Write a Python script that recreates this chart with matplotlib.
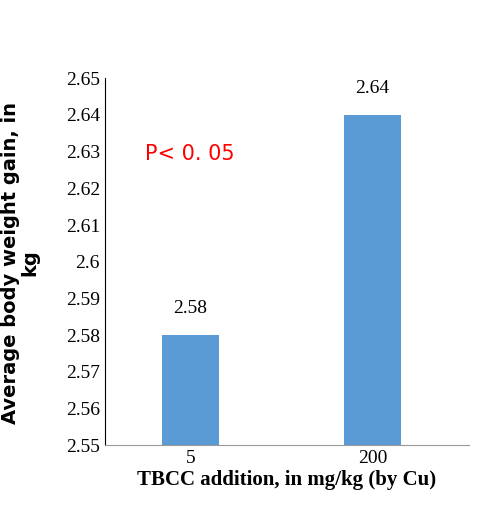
import matplotlib.pyplot as plt

doses = ["5", "200"]
gains = [2.58, 2.64]
yticks = [2.55, 2.56, 2.57, 2.58, 2.59, 2.6, 2.61, 2.62, 2.63, 2.64, 2.65]

plt.rcParams['font.family'] = ['Liberation Serif', 'DejaVu Serif']

fig = plt.figure(figsize=(4.99, 5.25), dpi=100)
ax = fig.add_axes([0.21, 0.152, 0.73, 0.699])

x = range(len(doses))
ax.bar(x, gains, width=0.31, color='#5B9BD5', zorder=2)
for xi, g in zip(x, gains):
    ax.text(xi, g + 0.005, f"{g:.2f}", ha='center', va='bottom', fontsize=14)

ax.set_xticks(list(x))
ax.set_xticklabels(doses, fontsize=14)
ax.set_xlim(-0.47, 1.53)
ax.set_ylim(2.55, 2.65)
ax.set_yticks(yticks)
ax.set_yticklabels([f"{v:g}" for v in yticks], fontsize=14)
ax.tick_params(length=0)
for s in ['top', 'right']:
    ax.spines[s].set_visible(False)
ax.spines['left'].set_color('black')
ax.spines['bottom'].set_color('#999999')

ax.set_xlabel("TBCC addition, in mg/kg (by Cu)", fontsize=15, fontweight='bold', labelpad=2)
fig.text(0.04, 0.5, "Average body weight gain, in\nkg", rotation=90, ha='center', va='center',
         fontsize=14, fontweight='bold', family='DejaVu Sans', linespacing=1.0)

fig.text(0.29, 0.695, "P< 0. 05", color='red', fontsize=15, family='DejaVu Sans')

fig.savefig("out.png", dpi=100)
